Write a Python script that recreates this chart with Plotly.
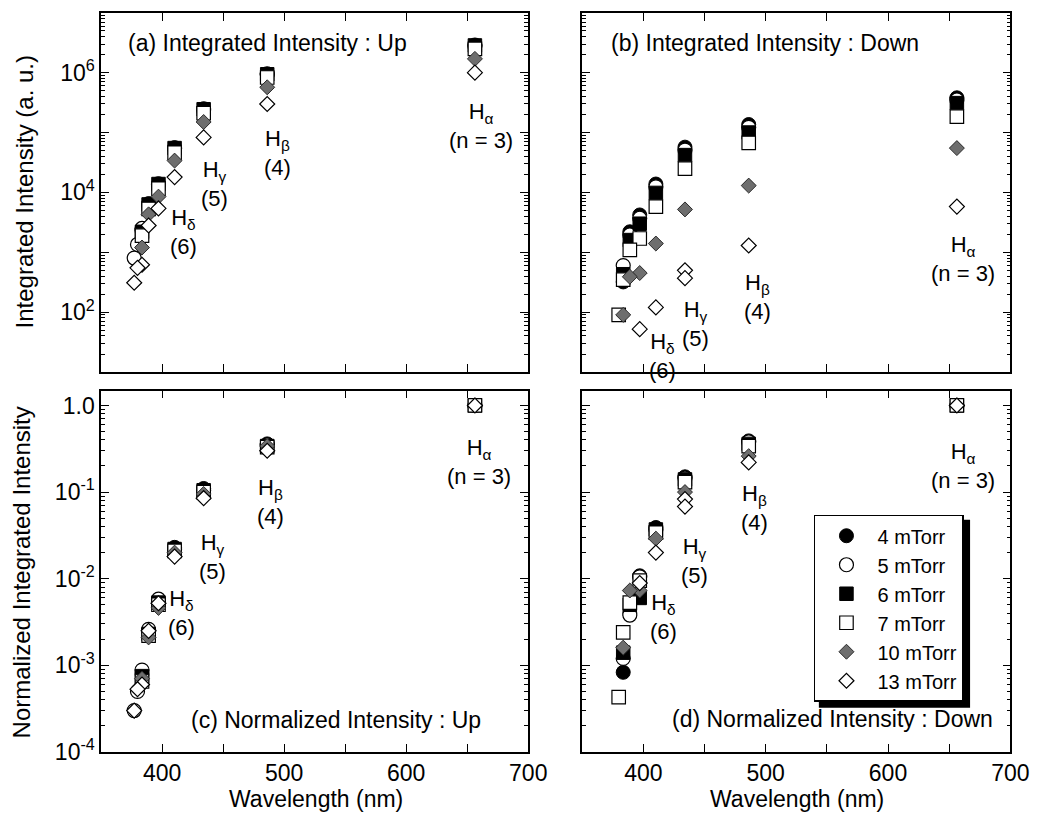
import plotly.graph_objects as go

W, H = 1047, 823
FONT = "Liberation Sans, Arial, Helvetica, sans-serif"
FS = 23

# Balmer line wavelengths (nm): H-alpha ... H11
WL = [656.3, 486.1, 434.0, 410.2, 397.0, 388.9, 383.5, 379.8, 377.1]
SERIES = ["4 mTorr", "5 mTorr", "6 mTorr", "7 mTorr", "10 mTorr", "13 mTorr"]

# (a) Integrated intensity : Up (a.u.)
UP_4 = [2.9e6, 9.6e5, 2.5e5, 5.6e4, 1.4e4, 6.5e3, 2.3e3, None, None]
UP_5 = [2.8e6, 9.3e5, 2.4e5, 5.4e4, 1.35e4, 6.2e3, 2.5e3, 1.35e3, 8.0e2]
UP_6 = [2.85e6, 9.4e5, 2.45e5, 5.5e4, 1.38e4, 6.3e3, 2.2e3, None, None]
UP_7 = [2.5e6, 8.3e5, 2.1e5, 4.6e4, 1.15e4, 5.3e3, 1.9e3, None, None]
UP_10 = [1.7e6, 5.7e5, 1.5e5, 3.4e4, 8.5e3, 4.3e3, 1.2e3, None, None]
UP_13 = [1.0e6, 3.0e5, 8.3e4, 1.8e4, 5.4e3, 2.8e3, 6.2e2, 5.5e2, 3.1e2]

# (b) Integrated intensity : Down (a.u.)
DN_4 = [3.8e5, 1.36e5, 5.7e4, 1.38e4, 4.2e3, 2.2e3, 3.2e2, None, None]
DN_5 = [3.5e5, 1.22e5, 5.1e4, 1.24e4, 3.7e3, 1.95e3, 6.0e2, None, None]
DN_6 = [3.1e5, 1.0e5, 4.2e4, 9.8e3, 3.0e3, 1.6e3, 4.3e2, None, None]
DN_7 = [1.85e5, 6.7e4, 2.5e4, 5.8e3, 1.7e3, 1.1e3, 3.5e2, 90, None]
DN_10 = [5.5e4, 1.3e4, 5.2e3, 1.4e3, 4.5e2, 3.9e2, 90, None, None]
DN_13 = [5.8e3, 1.3e3, 5.0e2, 1.2e2, 52, None, None, None, None]
DN_13_EXTRA_WL = [434.0]
DN_13_EXTRA = [3.7e2]

# (c) Normalized intensity : Up
NU_4 = [1.0, 0.36, 0.11, 0.023, 5.5e-3, 2.5e-3, 8.0e-4, None, None]
NU_5 = [1.0, 0.35, 0.105, 0.022, 5.8e-3, 2.6e-3, 8.8e-4, 5.0e-4, 3.0e-4]
NU_6 = [1.0, 0.34, 0.105, 0.022, 5.3e-3, 2.3e-3, 7.5e-4, None, None]
NU_7 = [1.0, 0.33, 0.10, 0.021, 5.0e-3, 2.2e-3, 6.5e-4, None, None]
NU_10 = [1.0, 0.34, 0.095, 0.020, 4.6e-3, 2.1e-3, 7.0e-4, None, None]
NU_13 = [1.0, 0.30, 0.085, 0.018, 5.2e-3, 2.5e-3, 6.0e-4, 5.3e-4, 3.0e-4]

# (d) Normalized intensity : Down
ND_4 = [1.0, 0.39, 0.15, 0.039, 0.0108, 4.0e-3, 8.3e-4, None, None]
ND_5 = [1.0, 0.38, 0.145, 0.037, 0.0105, 3.8e-3, 1.2e-3, None, None]
ND_6 = [1.0, 0.36, 0.14, 0.037, 6.0e-3, 5.0e-3, 1.4e-3, None, None]
ND_7 = [1.0, 0.34, 0.13, 0.034, 9.5e-3, 5.3e-3, 2.4e-3, 4.3e-4, None]
ND_10 = [1.0, 0.26, 0.10, 0.029, 7.3e-3, 7.3e-3, 1.6e-3, None, None]
ND_13 = [1.0, 0.22, 0.083, 0.020, 8.9e-3, None, None, None, None]
ND_13_EXTRA_WL = [434.0]
ND_13_EXTRA = [0.068]

X_TICKS = [400, 450, 500, 550, 600, 650, 700]
X_TICK_TEXT = ["400", "", "500", "", "600", "", "700"]
Y_TOP_TICKS = [1e1, 1e2, 1e3, 1e4, 1e5, 1e6, 1e7]
Y_TOP_TEXT = ["", "10<sup>2</sup>", "", "10<sup>4</sup>", "", "10<sup>6</sup>", ""]
Y_BOT_TICKS = [1e-4, 1e-3, 1e-2, 1e-1, 1.0]
Y_BOT_TEXT = ["10<sup>-4</sup>", "10<sup>-3</sup>", "10<sup>-2</sup>", "10<sup>-1</sup>", "1.0"]

STYLES = [
    dict(symbol="circle", size=14, color="black", line=dict(color="black", width=1)),
    dict(symbol="circle", size=14, color="white", line=dict(color="black", width=1.2)),
    dict(symbol="square", size=13.5, color="black", line=dict(color="black", width=1)),
    dict(symbol="square", size=13.5, color="white", line=dict(color="black", width=1.2)),
    dict(symbol="diamond", size=11.5, color="#6e6e6e", line=dict(color="#2a2a2a", width=1)),
    dict(symbol="diamond", size=11.5, color="white", line=dict(color="black", width=1.2)),
]

PANELS = [
    ("x", "y", [UP_4, UP_5, UP_6, UP_7, UP_10, UP_13], [], []),
    ("x2", "y2", [DN_4, DN_5, DN_6, DN_7, DN_10, DN_13], DN_13_EXTRA_WL, DN_13_EXTRA),
    ("x3", "y3", [NU_4, NU_5, NU_6, NU_7, NU_10, NU_13], [], []),
    ("x4", "y4", [ND_4, ND_5, ND_6, ND_7, ND_10, ND_13], ND_13_EXTRA_WL, ND_13_EXTRA),
]

fig = go.Figure()
for pi, (xa, ya, vals, exwl, exv) in enumerate(PANELS):
    for si, name in enumerate(SERIES):
        xs = list(WL)
        ys = list(vals[si])
        if si == 5:
            xs += exwl
            ys += exv
        fig.add_trace(go.Scatter(
            x=xs, y=ys, mode="markers", name=name, xaxis=xa, yaxis=ya,
            legendgroup=name, showlegend=(pi == 3),
            marker=STYLES[si],
        ))

def px(p):
    return p / W

def py(p):
    return 1 - p / H

COLS = [[px(103), px(538)], [px(593), px(1029)]]
ROWS = [[py(378), py(13)], [py(764), py(397)]]

def minor_vals(lo, hi):
    out = []
    for e in range(lo, hi + 1):
        for k in range(2, 10):
            out.append(k * 10.0 ** e)
    return out

def xaxis(dom, anchor, labels):
    return dict(domain=dom, anchor=anchor, range=[350, 700], showline=True,
                linecolor="black", linewidth=1.5, mirror="allticks", ticks="inside",
                ticklen=8, tickwidth=1.3, tickcolor="black", tickmode="array",
                tickvals=X_TICKS, ticktext=X_TICK_TEXT, showticklabels=labels,
                showgrid=False, zeroline=False,
                tickfont=dict(size=FS, color="black", family=FONT))

def yaxis(dom, anchor, top, labels):
    if top:
        rng, tv, tt, mv = [1.0, 7.0], Y_TOP_TICKS, Y_TOP_TEXT, minor_vals(1, 6)
    else:
        rng, tv, tt, mv = [-4.0, 0.17], Y_BOT_TICKS, Y_BOT_TEXT, minor_vals(-4, 0)
    return dict(domain=dom, anchor=anchor, type="log", range=rng, showline=True,
                linecolor="black", linewidth=1.5, mirror="allticks", ticks="inside",
                ticklen=8, tickwidth=1.3, tickcolor="black", tickmode="array",
                tickvals=tv, ticktext=tt, showticklabels=labels, showgrid=False,
                zeroline=False, tickfont=dict(size=FS, color="black", family=FONT),
                minor=dict(ticks="inside", ticklen=4, tickwidth=1, tickcolor="black",
                           tickmode="array", tickvals=mv, showgrid=False))

LEG_X0, LEG_Y0 = 829, 523
LEG_W, LEG_H = 154, 191

fig.update_layout(
    width=W, height=H, margin=dict(l=0, r=0, t=0, b=0),
    paper_bgcolor="white", plot_bgcolor="white",
    font=dict(family=FONT, size=FS, color="black"),
    xaxis=xaxis(COLS[0], "y", False), yaxis=yaxis(ROWS[0], "x", True, True),
    xaxis2=xaxis(COLS[1], "y2", False), yaxis2=yaxis(ROWS[0], "x2", True, False),
    xaxis3=xaxis(COLS[0], "y3", True), yaxis3=yaxis(ROWS[1], "x3", False, True),
    xaxis4=xaxis(COLS[1], "y4", True), yaxis4=yaxis(ROWS[1], "x4", False, False),
    legend=dict(x=px(LEG_X0), y=py(LEG_Y0), xanchor="left", yanchor="top",
                bgcolor="white", bordercolor="black", borderwidth=1.5,
                font=dict(size=20, family=FONT, color="black"), itemwidth=52,
                tracegroupgap=0),
)

ann = []
def text(t, x, y, xa="center", ya="middle", size=FS, angle=0):
    ann.append(dict(text=t, x=px(x), y=py(y), xref="paper", yref="paper",
                    xanchor=xa, yanchor=ya, showarrow=False, textangle=angle,
                    font=dict(size=size, family=FONT, color="black")))

text("(a) Integrated Intensity : Up", 128, 44, xa="left")
text("(b) Integrated Intensity : Down", 620, 44, xa="left")
text("(c) Normalized Intensity : Up", 492, 732, xa="right")
text("(d) Normalized Intensity : Down", 1013, 731, xa="right")

LINE_LABELS = [
    # (H subscript, number, cx, H cy, number cy)
    ("δ", "(6)", 187, 222, 248), ("γ", "(5)", 218, 174, 197),
    ("β", "(4)", 283, 142, 167), ("α", "(n = 3)", 490, 114, 140),
    ("δ", "(6)", 675, 347, 375), ("γ", "(5)", 708, 314, 342),
    ("β", "(4)", 771, 287, 315), ("α", "(n = 3)", 981, 249, 275),
    ("δ", "(6)", 185, 610, 633), ("γ", "(5)", 216, 552, 577),
    ("β", "(4)", 276, 497, 522), ("α", "(n = 3)", 488, 454, 482),
    ("δ", "(6)", 676, 614, 637), ("γ", "(5)", 707, 555, 582),
    ("β", "(4)", 768, 500, 530), ("α", "(n = 3)", 981, 459, 485),
]
for g, n, cx, hy, ny in LINE_LABELS:
    text("H<sub>" + g + "</sub><br>" + n, cx, (hy + ny) / 2 + 1, size=22)

text("Integrated Intensity (a. u.)", 25, 195, angle=-90, size=24)
text("Normalized Integrated Intensity", 22, 582, angle=-90, size=24)
text("Wavelength (nm)", 322, 812)
text("Wavelength (nm)", 812, 812)

fig.update_layout(annotations=ann)

# legend drop shadow
fig.add_shape(type="rect", xref="paper", yref="paper", layer="below",
              x0=px(LEG_X0 + 5), x1=px(LEG_X0 + LEG_W + 5),
              y0=py(LEG_Y0 + LEG_H + 5), y1=py(LEG_Y0 + 5),
              fillcolor="black", line=dict(width=0))

fig.write_html("out.html",
               post_script="document.body.style.margin='0';document.body.style.overflow='hidden';")
